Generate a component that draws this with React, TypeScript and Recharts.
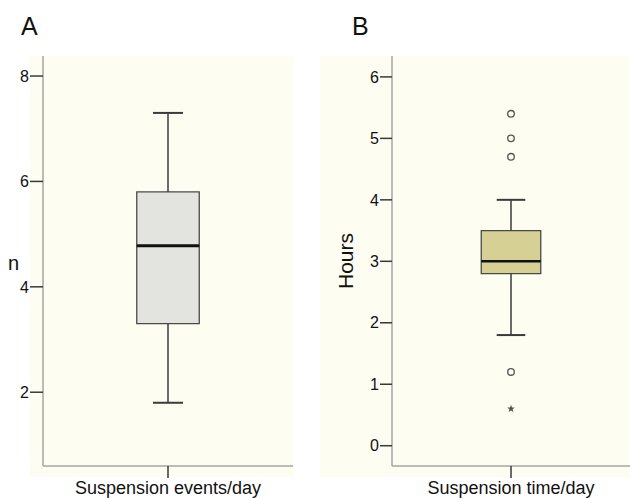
import React from "react";
import {
	ComposedChart,
	XAxis,
	YAxis,
	ReferenceArea,
	ReferenceLine,
	Scatter,
} from "recharts";

// box stats: [min, q1, median, q3, max]
const eventsCategory = "Suspension events/day";
const eventsBox = [1.8, 3.3, 4.78, 5.8, 7.3];
const eventsTicks = [2, 4, 6, 8];

const timeCategory = "Suspension time/day";
const timeBox = [1.8, 2.8, 3.0, 3.5, 4.0];
const timeOutliers = [5.4, 5.0, 4.7, 1.2];
const timeExtremes = [0.6];
const timeTicks = [0, 1, 2, 3, 4, 5, 6];

const FONT = '"Liberation Sans", Arial, Helvetica, sans-serif';
const CREAM = "#fdfdf1";
const DARK = "#3a3a3a";

const OutlierDot = (p: any) => (
	<circle cx={p.cx} cy={p.cy} r={3.3} fill="none" stroke="#555" strokeWidth={1.3} />
);

const ExtremeStar = (p: any) => {
	const pts: string[] = [];
	for (let i = 0; i < 10; i++) {
		const r = i % 2 === 0 ? 4 : 1.7;
		const a = -Math.PI / 2 + (i * Math.PI) / 5;
		pts.push(`${p.cx + r * Math.cos(a)},${p.cy + r * Math.sin(a)}`);
	}
	return <polygon points={pts.join(" ")} fill="#555" />;
};

interface BoxChartProps {
	width: number;
	height: number;
	margin: { top: number; right: number; bottom: number; left: number };
	yAxisWidth: number;
	box: number[];
	outliers?: number[];
	extremes?: number[];
	yDomain: [number, number];
	yTicks: number[];
	yTickSize: number;
	category: string;
	yLabel: any;
	boxFill: string;
	medianWidth: number;
}

const BoxChart: React.FC<BoxChartProps> = ({
	width,
	height,
	margin,
	yAxisWidth,
	box,
	outliers = [],
	extremes = [],
	yDomain,
	yTicks,
	yTickSize,
	category,
	yLabel,
	boxFill,
	medianWidth,
}) => {
	const [min, q1, med, q3, max] = box;
	const rows = [{ x: 1 }];
	const half = 0.25;
	const cap = 0.12;
	return (
		<ComposedChart width={width} height={height} margin={margin} data={rows}>
			<XAxis
				type="number"
				dataKey="x"
				domain={[0, 2]}
				ticks={[1]}
				interval={0}
				allowDataOverflow
				tickFormatter={() => category}
				axisLine={{ stroke: "#a5a5a5", strokeWidth: 1.5 }}
				tickLine={{ stroke: DARK, strokeWidth: 1.5 }}
				tickSize={12}
				tickMargin={3}
				tick={{ fill: "#111", fontSize: 18, fontFamily: FONT }}
				height={33}
			/>
			<YAxis
				type="number"
				domain={yDomain}
				ticks={yTicks}
				interval={0}
				allowDataOverflow
				width={yAxisWidth}
				axisLine={{ stroke: "#a5a5a5", strokeWidth: 1.5 }}
				tickLine={{ stroke: DARK, strokeWidth: 1.5 }}
				tickSize={yTickSize}
				tickMargin={1}
				tick={{ fill: "#111", fontSize: 16, fontFamily: FONT }}
				label={yLabel}
			/>
			<ReferenceLine segment={[{ x: 1, y: q3 }, { x: 1, y: max }]} stroke={DARK} strokeWidth={1.5} ifOverflow="visible" />
			<ReferenceLine segment={[{ x: 1, y: min }, { x: 1, y: q1 }]} stroke={DARK} strokeWidth={1.5} ifOverflow="visible" />
			<ReferenceLine segment={[{ x: 1 - cap, y: max }, { x: 1 + cap, y: max }]} stroke={DARK} strokeWidth={2} ifOverflow="visible" />
			<ReferenceLine segment={[{ x: 1 - cap, y: min }, { x: 1 + cap, y: min }]} stroke={DARK} strokeWidth={2} ifOverflow="visible" />
			<ReferenceArea
				x1={1 - half}
				x2={1 + half}
				y1={q1}
				y2={q3}
				fill={boxFill}
				fillOpacity={1}
				stroke="#4a4a4a"
				strokeWidth={1.3}
				ifOverflow="visible"
			/>
			<ReferenceLine segment={[{ x: 1 - half, y: med }, { x: 1 + half, y: med }]} stroke="#111" strokeWidth={medianWidth} ifOverflow="visible" />
			<Scatter
				data={outliers.map((v) => ({ x: 1, v }))}
				dataKey="v"
				shape={OutlierDot}
				isAnimationActive={false}
			/>
			<Scatter
				data={extremes.map((v) => ({ x: 1, v }))}
				dataKey="v"
				shape={ExtremeStar}
				isAnimationActive={false}
			/>
		</ComposedChart>
	);
};

export default function App() {
	return (
		<div
			style={{
				position: "absolute",
				left: 0,
				top: 0,
				width: 630,
				height: 499,
				background: "#fff",
				fontFamily: FONT,
				overflow: "hidden",
			}}
		>
			<div style={{ position: "absolute", left: 30, top: 56, width: 264, height: 421, background: CREAM }} />
			<div style={{ position: "absolute", left: 320, top: 56, width: 310, height: 421, background: CREAM }} />
			<div style={{ position: "absolute", left: 21, top: 14, fontSize: 25, lineHeight: "25px", color: "#111" }}>A</div>
			<div style={{ position: "absolute", left: 352, top: 14, fontSize: 25, lineHeight: "25px", color: "#111" }}>B</div>
			<div style={{ position: "absolute", left: 0, top: 0 }}>
				<BoxChart
					width={300}
					height={499}
					margin={{ top: 56, right: 7, bottom: 0, left: 0 }}
					yAxisWidth={43}
					box={eventsBox}
					yDomain={[0.6, 8.38]}
					yTicks={eventsTicks}
					yTickSize={13}
					category={eventsCategory}
					yLabel={{ value: "n", position: "center", dx: -8, dy: 2, style: { fill: "#111", fontSize: 20, fontFamily: FONT } }}
					boxFill="#e3e3df"
					medianWidth={3}
				/>
			</div>
			<div style={{ position: "absolute", left: 320, top: 0 }}>
				<BoxChart
					width={310}
					height={499}
					margin={{ top: 56, right: 0, bottom: 0, left: 0 }}
					yAxisWidth={72}
					box={timeBox}
					outliers={timeOutliers}
					extremes={timeExtremes}
					yDomain={[-0.33, 6.34]}
					yTicks={timeTicks}
					yTickSize={12}
					category={timeCategory}
					yLabel={{ value: "Hours", angle: -90, position: "center", dx: -10, style: { fill: "#111", fontSize: 21, fontFamily: FONT } }}
					boxFill="#d6d095"
					medianWidth={2.5}
				/>
			</div>
		</div>
	);
}
